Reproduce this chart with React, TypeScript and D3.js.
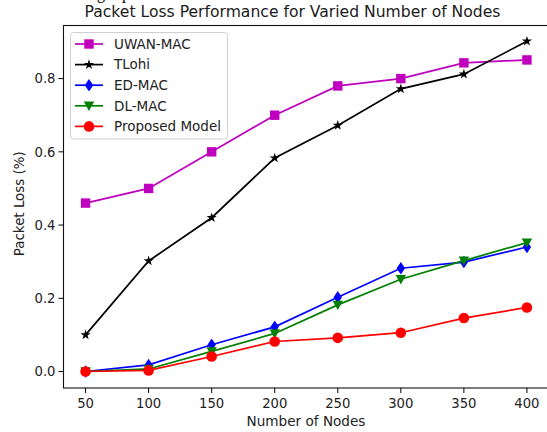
import React from "react";
import * as d3 from "d3";

const nodes = [50, 100, 150, 200, 250, 300, 350, 400];
const uwanMac = [0.46, 0.5, 0.6, 0.7, 0.78, 0.8, 0.843, 0.851];
const tlohi = [0.1, 0.302, 0.42, 0.583, 0.672, 0.772, 0.812, 0.902];
const edMac = [0.0, 0.018, 0.073, 0.122, 0.203, 0.282, 0.299, 0.34];
const dlMac = [0.0, 0.007, 0.055, 0.104, 0.182, 0.252, 0.303, 0.352];
const proposed = [0.0, 0.003, 0.041, 0.082, 0.092, 0.106, 0.146, 0.175];
const xTicks = [50, 100, 150, 200, 250, 300, 350, 400];
const yTicks = [0.0, 0.2, 0.4, 0.6, 0.8];

const series = [
  { name: "UWAN-MAC", values: uwanMac, color: "#bf00bf", marker: "square" },
  { name: "TLohi", values: tlohi, color: "#000000", marker: "star" },
  { name: "ED-MAC", values: edMac, color: "#0000ff", marker: "diamond" },
  { name: "DL-MAC", values: dlMac, color: "#008000", marker: "triangle" },
  { name: "Proposed Model", values: proposed, color: "#ff0000", marker: "circle" },
];

const W = 547;
const H = 432;
const left = 63.5;
const right = 549;
const top = 25.5;
const bottom = 388;

const FONT = "DejaVu Sans, sans-serif";

function Marker({ type, x, y, color }: { type: string; x: number; y: number; color: string }) {
  if (type === "square") {
    return <rect x={x - 4.7} y={y - 4.7} width={9.4} height={9.4} fill={color} />;
  }
  if (type === "circle") {
    return <circle cx={x} cy={y} r={5.3} fill={color} />;
  }
  if (type === "diamond") {
    return <path d={`M${x},${y - 6.3} L${x + 4.2},${y} L${x},${y + 6.3} L${x - 4.2},${y} Z`} fill={color} />;
  }
  if (type === "triangle") {
    return <path d={`M${x - 5.2},${y - 4.2} L${x + 5.2},${y - 4.2} L${x},${y + 5.2} Z`} fill={color} />;
  }
  if (type === "star") {
    const sym = d3.symbol().type(d3.symbolStar).size(32)();
    return <path d={sym as string} transform={`translate(${x},${y})`} fill={color} />;
  }
  return null;
}

export default function App() {
  const x = d3.scaleLinear().domain([32.5, 417.5]).range([left, right]);
  const y = d3.scaleLinear().domain([-0.045, 0.945]).range([bottom, top]);
  const line = d3
    .line<number>()
    .x((_, i) => x(nodes[i]))
    .y((d) => y(d));

  const legX = 70.5;
  const legY = 32.5;
  const rowH = 20.6;

  return (
    <svg
      width={W}
      height={H}
      style={{ position: "absolute", left: 0, top: 0, background: "#fff" }}
      fontFamily={FONT}
    >
      <rect x={0} y={0} width={W} height={H} fill="#fff" />
      <text x={97} y={-1} fontFamily="Liberation Serif, serif" fontSize={16} fill="#000">g</text>
      <text x={122} y={-1} fontFamily="Liberation Serif, serif" fontSize={16} fill="#000">p</text>

      <text x={292.5} y={17} fontSize={15.6} textAnchor="middle" fill="#1a1a1a">
        Packet Loss Performance for Varied Number of Nodes
      </text>

      {/* axes frame */}
      <rect x={left} y={top} width={right - left} height={bottom - top} fill="none" stroke="#111" strokeWidth={1.1} />

      {xTicks.map((t) => (
        <g key={"x" + t}>
          <line x1={x(t)} x2={x(t)} y1={bottom} y2={bottom + 5} stroke="#000" />
          <text x={x(t)} y={bottom + 20} fontSize={13.2} textAnchor="middle" fill="#222">
            {t}
          </text>
        </g>
      ))}
      {yTicks.map((t) => (
        <g key={"y" + t}>
          <line x1={left - 5} x2={left} y1={y(t)} y2={y(t)} stroke="#000" />
          <text x={left - 8} y={y(t) + 4.8} fontSize={13.2} textAnchor="end" fill="#222">
            {t.toFixed(1)}
          </text>
        </g>
      ))}
      <text x={306} y={425.5} fontSize={13.6} textAnchor="middle" fill="#222">
        Number of Nodes
      </text>
      <text
        transform={`translate(24,${(top + bottom) / 2 - 3}) rotate(-90)`}
        fontSize={13.4}
        textAnchor="middle"
        fill="#222"
      >
        Packet Loss (%)
      </text>

      {series.map((s) => (
        <g key={s.name}>
          <path d={line(s.values) as string} fill="none" stroke={s.color} strokeWidth={1.7} />
          {s.values.map((v, i) => (
            <Marker key={i} type={s.marker} x={x(nodes[i])} y={y(v)} color={s.color} />
          ))}
        </g>
      ))}

      {/* legend */}
      <rect x={legX} y={legY} width={157} height={106.5} rx={3} fill="#fff" fillOpacity={0.85} stroke="#d0d0d0" />
      {series.map((s, i) => {
        const cy = legY + 11.5 + i * rowH;
        return (
          <g key={"leg" + s.name}>
            <line x1={75} x2={103} y1={cy} y2={cy} stroke={s.color} strokeWidth={1.7} />
            <Marker type={s.marker} x={89} y={cy} color={s.color} />
            <text x={114} y={cy + 4.8} fontSize={13.5} fill="#222">
              {s.name}
            </text>
          </g>
        );
      })}
    </svg>
  );
}
